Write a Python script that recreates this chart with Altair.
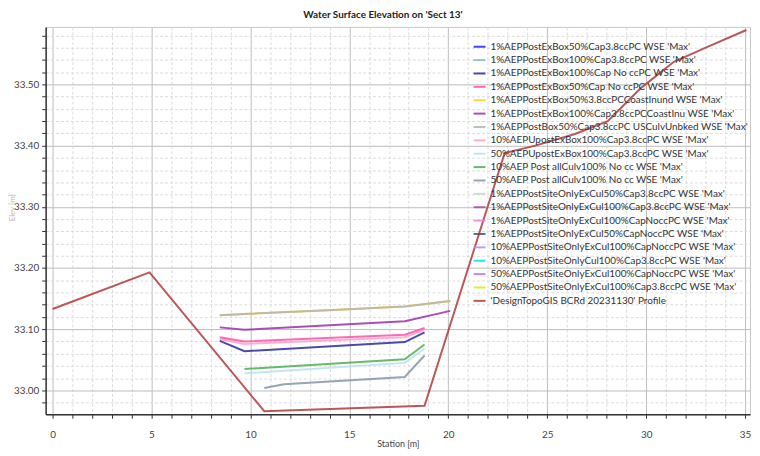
import altair as alt
import pandas as pd

FONT = "Lato"

series_names = [
    "1%AEPPostExBox50%Cap3.8ccPC WSE 'Max'",
    "1%AEPPostExBox100%Cap3.8ccPC WSE 'Max'",
    "1%AEPPostExBox100%Cap No ccPC WSE 'Max'",
    "1%AEPPostExBox50%Cap No ccPC WSE 'Max'",
    "1%AEPPostExBox50%3.8ccPCCoastInund WSE 'Max'",
    "1%AEPPostExBox100%Cap3.8ccPCCoastInu WSE 'Max'",
    "1%AEPPostBox50%Cap3.8ccPC USCulvUnbked WSE 'Max'",
    "10%AEPUpostExBox100%Cap3.8ccPC WSE 'Max'",
    "50%AEPUpostExBox100%Cap3.8ccPC WSE 'Max'",
    "10%AEP Post allCulv100% No cc WSE 'Max'",
    "50%AEP Post allCulv100% No cc WSE 'Max'",
    "1%AEPPostSiteOnlyExCul50%Cap3.8ccPC WSE 'Max'",
    "1%AEPPostSiteOnlyExCul100%Cap3.8ccPC WSE 'Max'",
    "1%AEPPostSiteOnlyExCul100%CapNoccPC WSE 'Max'",
    "1%AEPPostSiteOnlyExCul50%CapNoccPC WSE 'Max'",
    "10%AEPPostSiteOnlyExCul100%CapNoccPC WSE 'Max'",
    "10%AEPPostSiteOnlyCul100%Cap3.8ccPC WSE 'Max'",
    "50%AEPPostSiteOnlyExCul100%CapNoccPC WSE 'Max'",
    "50%AEPPostSiteOnlyExCul100%Cap3.8ccPC WSE 'Max'",
    "'DesignTopoGIS BCRd 20231130' Profile",
]
series_colors = [
    "#2020ff", "#80c0b8", "#2a2aa0", "#ff50a8", "#ffd020",
    "#9a30a8", "#b4b4b4", "#ffa0c8", "#b8e0f0", "#4caf50",
    "#8494a8", "#c4dcc4", "#a050a8", "#f080f0", "#4a5070",
    "#b090f0", "#00e0f0", "#c070f0", "#d8f000", "#b03a3a",
]

# WSE lines (visible ones)
tan_x = [8.45, 9.7, 13.9, 17.8, 20.1]
tan_y = [33.123, 33.125, 33.131, 33.137, 33.146]
purple_x = [8.45, 9.7, 17.8, 20.1]
purple_y = [33.103, 33.099, 33.113, 33.130]
hotpink_x = [8.45, 9.7, 17.8, 18.8]
hotpink_y = [33.087, 33.080, 33.091, 33.102]
ltpink_x = [8.45, 9.7, 17.8, 18.8]
ltpink_y = [33.084, 33.076, 33.087, 33.099]
navy_x = [8.45, 9.7, 17.8, 18.8]
navy_y = [33.081, 33.064, 33.079, 33.095]
green_x = [9.7, 17.8, 18.8]
green_y = [33.035, 33.051, 33.075]
ltblue_x = [9.7, 17.8, 18.8]
ltblue_y = [33.028, 33.045, 33.068]
slate_x = [10.7, 11.7, 17.8, 18.8]
slate_y = [33.004, 33.010, 33.022, 33.057]

profile_x = [0, 4.9, 10.7, 18.8, 22.85, 24.4, 26.4, 28.06, 29.73, 31.4, 33.07, 35.07]
profile_y = [33.133, 33.193, 32.966, 32.975, 33.388, 33.40, 33.419, 33.44, 33.494, 33.537, 33.561, 33.589]

x_ticks = list(range(0, 36))
y_ticks = [round(32.98 + 0.02 * i, 2) for i in range(31)]

rows = []
def add(name_idx, xs, ys):
    for a, b in zip(xs, ys):
        rows.append({"series": series_names[name_idx], "station": a, "elev": b})

add(4, tan_x, tan_y)
add(6, tan_x, tan_y)
add(5, purple_x, purple_y)
add(7, ltpink_x, ltpink_y)
add(3, hotpink_x, hotpink_y)
add(2, navy_x, navy_y)
add(8, ltblue_x, ltblue_y)
add(9, green_x, green_y)
add(10, slate_x, slate_y)
add(19, profile_x, profile_y)
df = pd.DataFrame(rows)

y_major = "abs(datum.value*10 - round(datum.value*10)) < 0.001"
x_major = "datum.value % 5 === 0"

x_axis = alt.Axis(
    values=x_ticks,
    title="Station [m]",
    labelExpr=f"{x_major} ? format(datum.value, 'd') : ''",
    labelOverlap=False,
    gridDash={"condition": {"test": x_major, "value": []}, "value": [3, 2]},
    gridColor={"condition": {"test": x_major, "value": "#bdbdbd"}, "value": "#dcdcdc"},
    tickSize=4,
    labelPadding=11,
    titlePadding=1,
)
y_axis = alt.Axis(
    values=y_ticks,
    title="Elev [m]",
    labelExpr=f"{y_major} ? format(datum.value, '.2f') : ''",
    labelOverlap=False,
    gridDash={"condition": {"test": y_major, "value": []}, "value": [3, 2]},
    gridColor={"condition": {"test": y_major, "value": "#bdbdbd"}, "value": "#dcdcdc"},
    tickSize=4,
    labelPadding=3,
    titleX=-29,
    titleY=182,
    titleColor="#b8b8b8",
    titleFontSize=8,
    titleFontWeight="normal",
)

chart = (
    alt.Chart(df)
    .mark_line(strokeWidth=2, opacity=0.85)
    .encode(
        x=alt.X("station:Q", scale=alt.Scale(domain=[-0.35, 35.25], nice=False, zero=False), axis=x_axis),
        y=alt.Y("elev:Q", scale=alt.Scale(domain=[32.961, 33.594], nice=False, zero=False), axis=y_axis),
        color=alt.Color(
            "series:N",
            scale=alt.Scale(domain=series_names, range=series_colors),
            sort=series_names,
            legend=alt.Legend(
                title=None,
                orient="none",
                legendX=431,
                legendY=13,
                padding=0,
                symbolType="stroke",
                symbolStrokeWidth=2,
                symbolSize=144,
                rowPadding=1.5,
                labelFontSize=10,
                labelFont=FONT,
                labelColor="#333333",
                labelLimit=400,
                labelOffset=4,
            ),
        ),
        detail="series:N",
        order=alt.Order("station:Q"),
    )
    .properties(
        width=711,
        height=391,
        padding={"left": 38, "top": 17, "right": 2, "bottom": 38},
        autosize=alt.AutoSizeParams(type="none"),
        title=alt.TitleParams(
            "Water Surface Elevation on  'Sect 13'",
            font=FONT,
            fontSize=10,
            fontWeight="bold",
            color="#222222",
            anchor="middle",
            dx=-15,
            offset=6,
        ),
    )
    .configure_view(stroke="#c8c8c8")
    .configure_axis(
        labelFont=FONT,
        titleFont=FONT,
        labelFontSize=10,
        titleFontSize=9,
        titleFontWeight="normal",
        labelColor="#444444",
        titleColor="#444444",
        domainColor="#333333",
        tickColor="#333333",
        domainWidth=1.5,
    )
)

chart.save("out.html", embed_options={"renderer": "svg", "actions": False})
